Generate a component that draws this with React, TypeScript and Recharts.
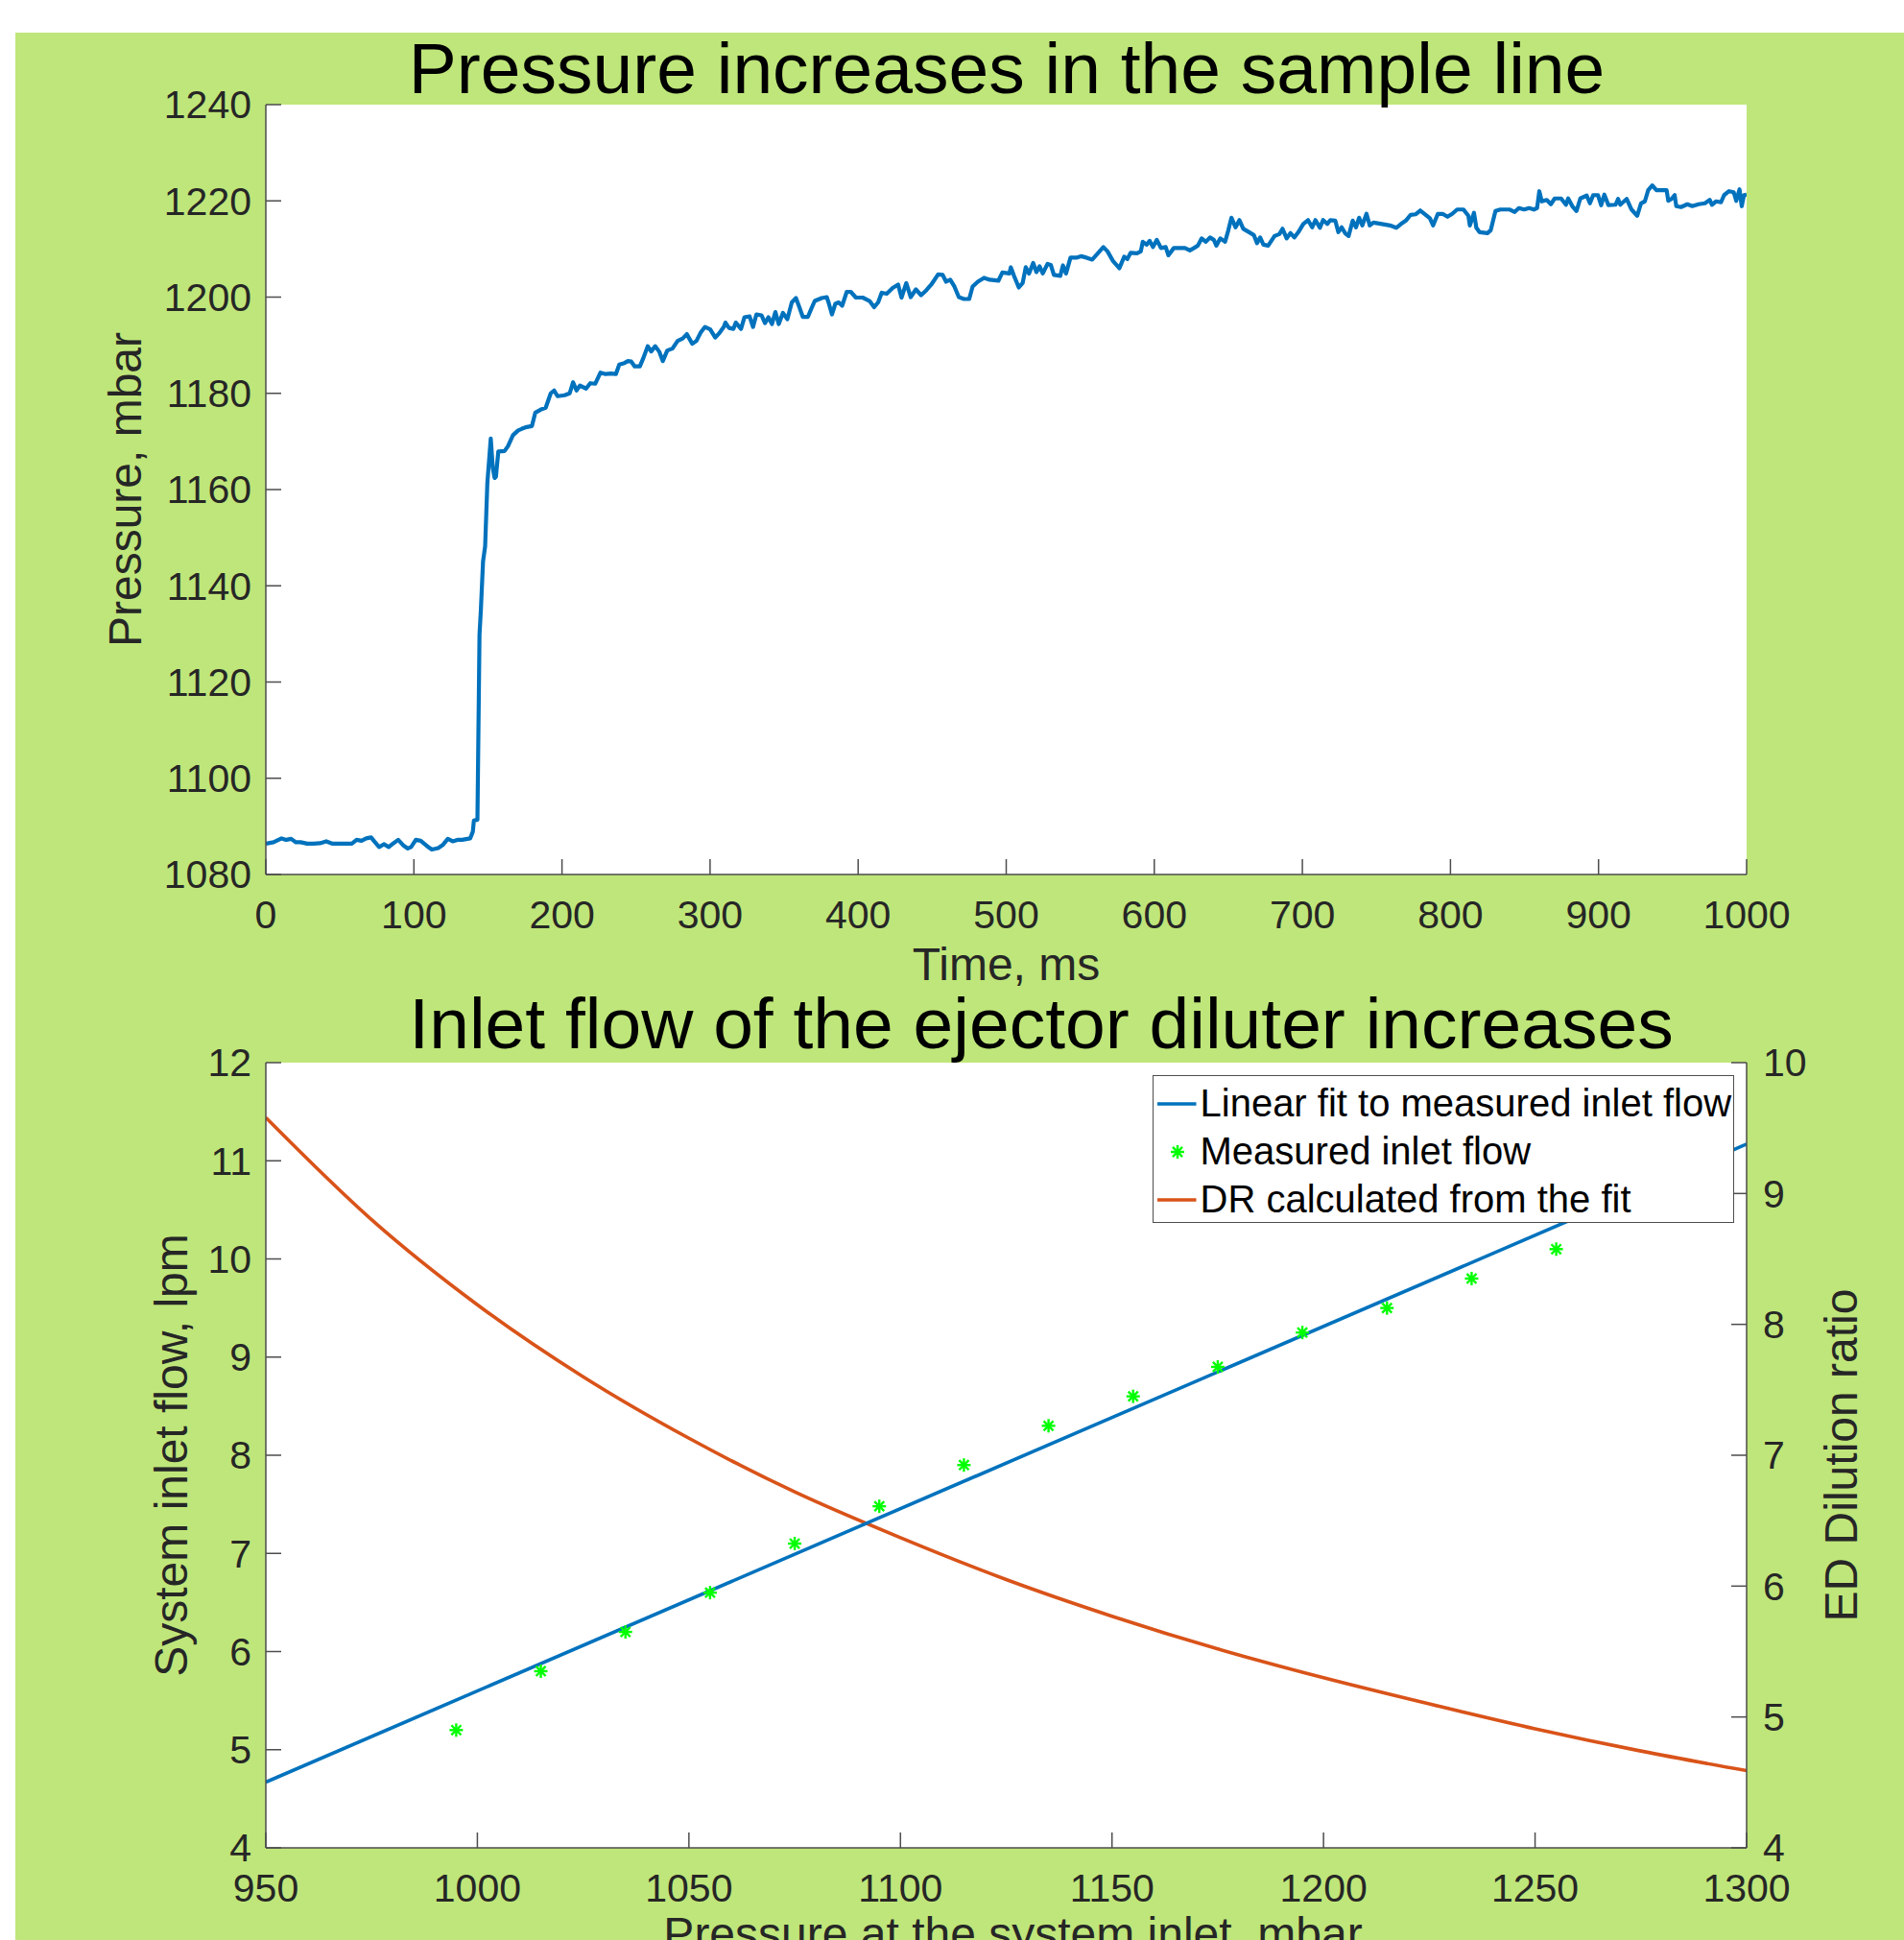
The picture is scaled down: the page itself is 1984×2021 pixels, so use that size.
import React from 'react';
import {
  LineChart,
  ComposedChart,
  Line,
  Scatter,
  XAxis,
  YAxis,
  CartesianGrid,
  Legend,
  Label,
} from 'recharts';

// ---------- data: upper panel (pressure in the sample line) ----------
const timeMs = [
  0, 5.2, 10.6, 13.8, 17.1, 20.3, 23.5, 27.9, 32.2, 36.5, 40.8, 45.1, 51.6, 58.1, 61.3, 64.6, 67.8, 71.1, 73.2, 76.5,
  79.7, 83.0, 86.2, 89.4, 92.7, 95.9, 98.1, 101.3, 104.6, 108.9, 112.1, 116.4, 119.7, 122.9, 126.2, 129.4, 132.6, 138.0, 139.8,
  140.5, 142.9, 144.3, 145.2, 146.7, 148.1, 149.6, 151.9, 153.3, 154.5, 155.4, 157.0,
  161.2, 163.5, 166.9, 170.4, 172.7, 176.2, 179.7, 182.0, 185.5, 189.0, 192.4, 194.7, 197.0, 201.7, 205.2, 207.5, 209.8,
  212.1, 216.3, 219.1, 222.5, 226.0, 229.5, 233.0, 236.4, 238.7, 242.2, 244.5, 246.8, 249.1, 252.6, 254.9, 257.9, 260.2,
  263.0, 265.8, 268.1, 271.1, 274.6, 278.1, 281.5, 284.3, 288.0, 290.8, 293.6, 296.6, 300.1, 303.5, 306.5, 309.3, 310.4,
  312.8, 315.8, 317.4, 320.9, 323.2, 326.7, 329.0, 331.3, 334.8, 337.1, 339.4, 341.8, 344.1, 346.4, 349.2, 352.2, 355.2,
  358.0, 360.3, 362.6, 366.1, 368.4, 370.7, 375.4, 378.8, 380.0, 382.3, 384.6, 386.9, 389.2, 392.3, 395.0, 398.5, 403.1,
  407.7, 410.8, 413.5, 415.9, 419.3, 423.3, 427.0, 429.3, 432.5, 435.5, 439.0, 442.5, 446.0, 449.4, 454.0, 457.1, 459.4,
  462.2, 465.0, 468.0, 471.5, 475.0, 477.3, 480.8, 485.0, 488.9, 494.7, 497.4,
  502.1, 503.1, 505.3, 508.5, 511.1, 513.2, 515.4, 518.2, 520.4, 522.5, 524.7, 527.9, 530.1, 532.2, 536.5, 538.3, 540.4,
  543.4, 547.3, 550.5, 554.2, 558.1, 561.3, 565.6, 568.4, 572.1, 576.4, 579.7, 581.8, 584.0, 588.3, 590.9, 592.2, 594.8,
  596.9, 599.1, 601.7, 604.5, 607.7, 609.5, 613.2, 620.7, 624.0, 626.8, 629.4, 632.0, 634.8, 637.6, 640.2, 641.9, 644.6,
  647.8, 650.0, 652.1, 654.9, 657.5, 660.1, 664.0, 667.2, 669.4, 671.5, 673.7, 676.9, 681.2, 684.5, 686.6, 689.4, 692.0,
  694.6, 697.3, 700.6, 703.8, 706.6, 708.8, 711.8, 714.0, 716.8, 718.9, 722.2, 724.3, 726.5, 729.1, 731.2, 734.0, 736.2,
  738.3, 740.5, 743.3, 745.5, 748.0,
  753.7, 759.1, 763.4, 766.6, 769.9, 773.1, 776.4, 779.6, 782.9, 786.1, 788.3, 791.5, 794.7, 798.0, 801.2, 804.5, 808.8,
  812.1, 813.1, 815.9, 817.5, 819.6, 825.0, 827.2, 830.4, 833.7, 840.1, 843.4, 846.2, 849.8, 853.1, 856.3, 858.5, 860.0,
  861.7, 865.0, 867.8, 870.4, 874.7, 878.0, 879.5, 882.3, 885.1, 887.7, 892.0, 894.2, 896.4, 899.6, 901.8, 903.9, 906.7,
  911.5, 913.2, 914.7, 919.0, 922.3, 926.1, 928.7, 931.3, 933.5, 936.3, 939.1, 942.8, 946.0, 947.1, 949.3, 951.4, 952.5,
  955.7, 960.0, 963.3, 967.6, 971.9, 975.1, 976.6, 979.4, 982.7, 984.8, 988.1, 991.3, 993.0, 995.2, 996.7, 998.2, 1000.0,
];

const pressureMbar = [
  1086.4, 1086.7, 1087.5, 1087.2, 1087.4, 1086.7, 1086.7, 1086.4, 1086.4, 1086.5, 1086.9, 1086.4, 1086.4, 1086.4, 1087.2,
  1087.0, 1087.5, 1087.7, 1086.9, 1085.7, 1086.3, 1085.7, 1086.5, 1087.2, 1086.1, 1085.4, 1085.7, 1087.2, 1087.0, 1085.9,
  1085.2, 1085.5, 1086.2, 1087.4, 1086.9, 1087.2, 1087.2, 1087.5, 1088.9,
  1091.2, 1091.4, 1129.9, 1134.9, 1145.1, 1148.2, 1161.4, 1170.6, 1164.4, 1162.4, 1162.7, 1167.9,
  1168.0, 1169.0, 1171.3, 1172.3, 1172.6, 1173.0, 1173.2, 1176.0, 1176.6, 1177.0, 1180.0, 1180.6, 1179.4, 1179.6, 1180.0,
  1182.3, 1180.6, 1181.6, 1181.0, 1182.1, 1182.0, 1184.3, 1184.0, 1184.1, 1184.0, 1186.0, 1186.3, 1186.7, 1186.6, 1185.6,
  1185.6, 1187.3, 1189.8, 1188.7, 1189.8, 1188.6, 1186.7, 1188.9, 1189.3, 1190.9, 1191.4, 1192.3, 1190.3, 1190.9, 1192.6,
  1193.8, 1193.3, 1191.6, 1192.6, 1193.8, 1194.7, 1193.6, 1193.4, 1194.7, 1193.4, 1195.8, 1196.0, 1193.8, 1196.4, 1196.2,
  1194.6, 1195.8, 1194.4, 1196.9, 1194.4, 1196.7, 1195.4, 1198.9, 1199.8, 1197.9, 1195.9, 1195.9, 1197.6, 1199.2, 1199.8,
  1200.0, 1198.9, 1196.4, 1198.6, 1198.9, 1198.2, 1201.1, 1201.1, 1199.9, 1199.9, 1199.2, 1197.9, 1198.9, 1200.9, 1200.7,
  1201.9, 1202.6, 1199.9, 1202.9, 1200.0, 1201.6, 1200.4, 1201.4, 1202.6, 1204.7, 1204.6, 1203.2, 1203.6, 1202.2, 1200.0,
  1199.6, 1199.6, 1202.2, 1203.2, 1204.0, 1203.6, 1203.4, 1205.1,
  1204.9, 1206.2, 1204.4, 1202.0, 1202.9, 1206.2, 1204.9, 1207.1, 1205.2, 1206.4, 1204.9, 1206.9, 1206.7, 1204.6, 1204.4,
  1206.6, 1204.9, 1208.2, 1208.2, 1208.5, 1208.2, 1207.8, 1208.9, 1210.4, 1209.5, 1207.5, 1206.0, 1208.4, 1207.9, 1209.2,
  1209.1, 1209.5, 1211.5, 1210.9, 1211.7, 1210.4, 1211.9, 1210.2, 1210.4, 1208.7, 1210.2, 1210.2, 1209.7, 1210.2, 1210.7,
  1212.2, 1211.5, 1212.4, 1211.9, 1210.7, 1212.2, 1211.5, 1213.9, 1216.5, 1214.5, 1216.0, 1214.2, 1213.5, 1212.9, 1211.2,
  1212.4, 1210.9, 1210.7, 1212.7, 1213.1, 1214.2, 1212.2, 1213.3, 1212.4, 1213.5, 1215.2, 1216.0, 1214.5, 1216.0, 1214.4,
  1216.0, 1215.2, 1216.0, 1215.9, 1213.5, 1214.5, 1213.2, 1212.7, 1215.9, 1214.5, 1216.5, 1214.9, 1217.3, 1214.9, 1215.5,
  1215.2, 1214.9, 1214.4, 1215.2, 1215.9, 1217.1, 1217.2, 1218.0, 1217.2, 1216.4, 1214.9, 1217.3, 1217.3, 1216.7, 1217.3,
  1218.2, 1218.2, 1216.9, 1214.9, 1217.5, 1214.4, 1213.5, 1213.3, 1213.9, 1217.9, 1218.2, 1218.2, 1217.7, 1218.5, 1218.2,
  1218.5, 1218.2, 1218.5, 1222.0, 1219.9, 1220.2, 1219.3, 1220.5, 1220.5, 1219.2, 1220.5, 1218.9, 1217.9, 1220.5, 1221.1,
  1219.5, 1221.2, 1221.2, 1219.1, 1221.3, 1219.1, 1219.2, 1220.4, 1219.2, 1220.4, 1218.2, 1216.9, 1219.5, 1219.9, 1222.2,
  1223.2, 1222.2, 1222.2, 1222.2, 1220.0, 1220.4, 1221.2, 1218.9, 1218.7, 1219.3, 1218.9, 1219.3, 1219.5, 1220.2, 1219.2,
  1219.9, 1219.7, 1221.2, 1222.0, 1221.8, 1220.0, 1222.4, 1218.9, 1221.2, 1221.3,
];

const timeTicks = [0, 100, 200, 300, 400, 500, 600, 700, 800, 900, 1000];
const pressureTicks = [1080, 1100, 1120, 1140, 1160, 1180, 1200, 1220, 1240];

// ---------- data: lower panel (inlet flow / dilution ratio) ----------
const measuredPressure = [995, 1015, 1035, 1055, 1075, 1095, 1115, 1135, 1155, 1175, 1195, 1215, 1235, 1255];
const measuredFlow = [5.2, 5.8, 6.2, 6.6, 7.1, 7.48, 7.9, 8.3, 8.6, 8.9, 9.25, 9.5, 9.8, 10.1];

const fitPressure = [950, 1300];
const fitFlow = [4.67, 11.17];

const drPressure = [950, 975, 1000, 1025, 1050, 1075, 1100, 1125, 1150, 1175, 1200, 1225, 1250, 1275, 1300];
const drValue = [9.58, 8.8, 8.15, 7.6, 7.13, 6.72, 6.37, 6.05, 5.77, 5.52, 5.3, 5.1, 4.91, 4.74, 4.59];

const inletTicks = [950, 1000, 1050, 1100, 1150, 1200, 1250, 1300];
const flowTicks = [4, 5, 6, 7, 8, 9, 10, 11, 12];
const drTicks = [4, 5, 6, 7, 8, 9, 10];

const legendNames = ['Linear fit to measured inlet flow', 'Measured inlet flow', 'DR calculated from the fit'];

// ---------- styling ----------
const FONT = '"Liberation Sans", Arial, Helvetica, sans-serif';
const BG_GREEN = '#bfe67a';
const AXIS_COLOR = '#4d4d4d';
const TEXT_COLOR = '#262626';
const BLUE = '#0072BD';
const ORANGE = '#D95319';
const MARKER_GREEN = '#00ff00';
const TICK_FONT = 41;
const LABEL_FONT = 48;
const TITLE_FONT = 75;
const TICK_LEN = 16;

const pressureRows = timeMs.map((t, i) => ({ t, p: pressureMbar[i] }));
const measuredRows = measuredPressure.map((p, i) => ({ p, flow: measuredFlow[i] }));
const fitRows = fitPressure.map((p, i) => ({ p, flow: fitFlow[i] }));
const drRows = drPressure.map((p, i) => ({ p, dr: drValue[i] }));

// MATLAB style ticks: marks point into the plot
const BottomTick = (props: any) => {
  const { x, y, payload } = props;
  return (
    <g>
      <line x1={x} y1={y} x2={x} y2={y - TICK_LEN} stroke={AXIS_COLOR} strokeWidth={1.5} />
      <text x={x} y={y + 56} textAnchor="middle" fontSize={TICK_FONT} fontFamily={FONT} fill={TEXT_COLOR}>
        {payload.value}
      </text>
    </g>
  );
};

const LeftTick = (props: any) => {
  const { x, y, payload } = props;
  return (
    <g>
      <line x1={x} y1={y} x2={x + TICK_LEN} y2={y} stroke={AXIS_COLOR} strokeWidth={1.5} />
      <text x={x - 15} y={y} dy="0.35em" textAnchor="end" fontSize={TICK_FONT} fontFamily={FONT} fill={TEXT_COLOR}>
        {payload.value}
      </text>
    </g>
  );
};

const RightTick = (props: any) => {
  const { x, y, payload } = props;
  return (
    <g>
      <line x1={x} y1={y} x2={x - TICK_LEN} y2={y} stroke={AXIS_COLOR} strokeWidth={1.5} />
      <text x={x + 17} y={y} dy="0.35em" textAnchor="start" fontSize={TICK_FONT} fontFamily={FONT} fill={TEXT_COLOR}>
        {payload.value}
      </text>
    </g>
  );
};

const VerticalTitle = ({ viewBox, value, offsetX }: any) => {
  const cx = viewBox.x + offsetX;
  const cy = viewBox.y + viewBox.height / 2;
  return (
    <text
      x={cx}
      y={cy}
      dy="0.35em"
      transform={`rotate(-90 ${cx} ${cy})`}
      textAnchor="middle"
      fontSize={LABEL_FONT}
      fontFamily={FONT}
      fill={TEXT_COLOR}
    >
      {value}
    </text>
  );
};

const HorizontalTitle = ({ viewBox, value, shiftX, baseline }: any) => (
  <text
    x={viewBox.x + viewBox.width / 2 + shiftX}
    y={viewBox.y + baseline}
    textAnchor="middle"
    fontSize={LABEL_FONT}
    fontFamily={FONT}
    fill={TEXT_COLOR}
  >
    {value}
  </text>
);

const Asterisk = (props: any) => {
  const { cx, cy } = props;
  const r = 7;
  const d = r * 0.72;
  return (
    <g stroke={MARKER_GREEN} strokeWidth={2.4}>
      <line x1={cx - r} y1={cy} x2={cx + r} y2={cy} />
      <line x1={cx} y1={cy - r} x2={cx} y2={cy + r} />
      <line x1={cx - d} y1={cy - d} x2={cx + d} y2={cy + d} />
      <line x1={cx - d} y1={cy + d} x2={cx + d} y2={cy - d} />
    </g>
  );
};

const LegendBox = () => (
  <div
    style={{
      boxSizing: 'border-box',
      width: 606,
      height: 154,
      background: '#fff',
      border: `1.5px solid ${AXIS_COLOR}`,
      paddingTop: 3.5,
      fontFamily: FONT,
      fontSize: 40,
      color: '#000',
    }}
  >
    {legendNames.map((name, i) => (
      <div key={name} style={{ display: 'flex', alignItems: 'center', height: 50 }}>
        <svg width={44.5} height={50} style={{ marginLeft: 4, flex: 'none' }}>
          {i === 1 ? (
            <Asterisk cx={21} cy={25} />
          ) : (
            <line x1={0} y1={25} x2={40.5} y2={25} stroke={i === 0 ? BLUE : ORANGE} strokeWidth={3.5} />
          )}
        </svg>
        <span style={{ whiteSpace: 'nowrap' }}>{name}</span>
      </div>
    ))}
  </div>
);

const App: React.FC = () => {
  const axisLine = { stroke: AXIS_COLOR, strokeWidth: 1.5 };

  return (
    <div
      style={{
        position: 'absolute',
        left: 0,
        top: 0,
        width: 1984,
        height: 2021,
        overflow: 'hidden',
        background: '#fff',
        fontFamily: FONT,
      }}
    >
      <div style={{ position: 'absolute', left: 16, top: 34, right: 0, bottom: 0, background: BG_GREEN }} />

      {/* upper panel */}
      <div style={{ position: 'absolute', left: 0, top: 0 }}>
        <LineChart width={1984} height={1050} data={pressureRows} margin={{ top: 109, right: 164, bottom: 0, left: 0 }}>
          <CartesianGrid horizontal={false} vertical={false} fill="#fff" />
          <XAxis
            type="number"
            dataKey="t"
            domain={[0, 1000]}
            ticks={timeTicks}
            interval={0}
            height={139}
            tickSize={0}
            tickMargin={0}
            tickLine={false}
            axisLine={axisLine}
            tick={(p: any) => <BottomTick {...p} />}
            allowDataOverflow
          >
            <Label content={(p: any) => <HorizontalTitle {...p} value="Time, ms" shiftX={0} baseline={110} />} />
          </XAxis>
          <YAxis
            type="number"
            domain={[1080, 1240]}
            ticks={pressureTicks}
            interval={0}
            width={277}
            tickSize={0}
            tickMargin={0}
            tickLine={false}
            axisLine={axisLine}
            tick={(p: any) => <LeftTick {...p} />}
            allowDataOverflow
          >
            <Label content={(p: any) => <VerticalTitle {...p} value="Pressure, mbar" offsetX={130} />} />
          </YAxis>
          <Line
            type="linear"
            dataKey="p"
            stroke={BLUE}
            strokeWidth={4.2}
            strokeLinejoin="round"
            dot={false}
            isAnimationActive={false}
          />
        </LineChart>
      </div>

      {/* lower panel */}
      <div style={{ position: 'absolute', left: 0, top: 1050 }}>
        <ComposedChart width={1984} height={971} margin={{ top: 57, right: 0, bottom: 0, left: 0 }}>
          <CartesianGrid yAxisId="flow" horizontal={false} vertical={false} fill="#fff" />
          <XAxis
            type="number"
            dataKey="p"
            domain={[950, 1300]}
            ticks={inletTicks}
            interval={0}
            height={96}
            tickSize={0}
            tickMargin={0}
            tickLine={false}
            axisLine={axisLine}
            tick={(p: any) => <BottomTick {...p} />}
            allowDataOverflow
          >
            <Label
              content={(p: any) => (
                <HorizontalTitle {...p} value="Pressure at the system inlet, mbar" shiftX={7} baseline={106} />
              )}
            />
          </XAxis>
          <YAxis
            yAxisId="flow"
            orientation="left"
            type="number"
            domain={[4, 12]}
            ticks={flowTicks}
            interval={0}
            width={277}
            tickSize={0}
            tickMargin={0}
            tickLine={false}
            axisLine={axisLine}
            tick={(p: any) => <LeftTick {...p} />}
            allowDataOverflow
          >
            <Label content={(p: any) => <VerticalTitle {...p} value="System inlet flow, lpm" offsetX={178} />} />
          </YAxis>
          <YAxis
            yAxisId="dr"
            orientation="right"
            type="number"
            domain={[4, 10]}
            ticks={drTicks}
            interval={0}
            width={164}
            tickSize={0}
            tickMargin={0}
            tickLine={false}
            axisLine={axisLine}
            tick={(p: any) => <RightTick {...p} />}
            allowDataOverflow
          >
            <Label content={(p: any) => <VerticalTitle {...p} value="ED Dilution ratio" offsetX={98} />} />
          </YAxis>
          <Line
            yAxisId="dr"
            data={drRows}
            dataKey="dr"
            name={legendNames[2]}
            type="monotone"
            stroke={ORANGE}
            strokeWidth={3.6}
            dot={false}
            isAnimationActive={false}
          />
          <Line
            yAxisId="flow"
            data={fitRows}
            dataKey="flow"
            name={legendNames[0]}
            type="linear"
            stroke={BLUE}
            strokeWidth={3.6}
            dot={false}
            isAnimationActive={false}
          />
          <Scatter
            yAxisId="flow"
            data={measuredRows}
            dataKey="flow"
            name={legendNames[1]}
            shape={(p: any) => <Asterisk {...p} />}
            isAnimationActive={false}
          />
          <Legend
            layout="vertical"
            align="center"
            verticalAlign="middle"
            wrapperStyle={{ left: 1201, top: 70, width: 606, height: 154 }}
            content={() => <LegendBox />}
          />
        </ComposedChart>
      </div>

      {/* panel titles */}
      <svg
        width={1984}
        height={2021}
        style={{ position: 'absolute', left: 0, top: 0, pointerEvents: 'none' }}
      >
        <text x={1049} y={97} textAnchor="middle" fontSize={TITLE_FONT} fontFamily={FONT} fill="#000">
          Pressure increases in the sample line
        </text>
        <text x={1085} y={1092} textAnchor="middle" fontSize={TITLE_FONT} fontFamily={FONT} fill="#000">
          Inlet flow of the ejector diluter increases
        </text>
      </svg>
    </div>
  );
};

export default App;
